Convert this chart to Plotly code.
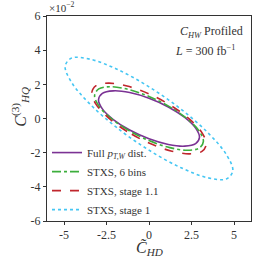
import plotly.graph_objects as go

# Contour points (x: C~_HD, y: C_HQ^(3) in units of 1e-2)
full_x = [2.97, 2.744, 2.100, 1.137, 0.0, -1.137, -2.100, -2.744, -2.97, -2.744, -2.100, -1.137, 0.0, 1.137, 2.100, 2.744]
full_y = [-1.10, -1.471, -1.619, -1.520, -1.187, -0.677, -0.062, 0.562, 1.10, 1.471, 1.619, 1.520, 1.187, 0.677, 0.062, -0.562]

bins6_x = [3.2, 2.956, 2.263, 1.225, 0.0, -1.225, -2.263, -2.956, -3.2, -2.956, -2.263, -1.225, 0.0, 1.225, 2.263, 2.956]
bins6_y = [-1.339, -1.732, -1.860, -1.706, -1.291, -0.681, 0.033, 0.744, 1.339, 1.732, 1.860, 1.706, 1.291, 0.681, -0.033, -0.744]

s11_x = [3.37, 3.113, 2.383, 1.290, 0.0, -1.290, -2.383, -3.113, -3.37, -3.113, -2.383, -1.290, 0.0, 1.290, 2.383, 3.113]
s11_y = [-1.490, -1.927, -2.070, -1.898, -1.437, -0.758, 0.037, 0.828, 1.490, 1.927, 2.070, 1.898, 1.437, 0.758, -0.037, -0.828]

s1_x = [4.93, 4.555, 3.486, 1.887, 0.0, -1.887, -3.486, -4.555, -4.93, -4.555, -3.486, -1.887, 0.0, 1.887, 3.486, 4.555]
s1_y = [-3.061, -3.537, -3.476, -2.885, -1.854, -0.541, 0.856, 2.119, 3.061, 3.537, 3.476, 2.885, 1.854, 0.541, -0.856, -2.119]

x_tickvals = [-5, -2.5, 0, 2.5, 5]
x_ticktext = ["-5", "-2.5", "0", "2.5", "5"]
y_tickvals = [-6, -4, -2, 0, 2, 4, 6]
y_ticktext = ["-6", "-4", "-2", "0", "2", "4", "6"]

series = [
    ("Full <i>p</i><sub><i>T,W</i></sub> dist.", full_x, full_y, "#7b3294", "solid"),
    ("STXS, 6 bins", bins6_x, bins6_y, "#3cae3c", "dashdot"),
    ("STXS, stage 1.1", s11_x, s11_y, "#c0262d", "dash"),
    ("STXS, stage 1", s1_x, s1_y, "#45c6f3", "dot"),
]

FONT = "Liberation Serif"
fig = go.Figure()
for name, xs, ys, col, dash in series:
    # start the closed path at the flat side so the closure is smooth
    xs2 = xs[4:] + xs[:5]
    ys2 = ys[4:] + ys[:5]
    fig.add_trace(go.Scatter(x=xs2, y=ys2, mode="lines", name=name,
                             line=dict(color=col, dash=dash, width=1.6, shape="spline", smoothing=1.0)))

axis_common = dict(showline=True, linecolor="#333", linewidth=1, mirror=True,
                   ticks="outside", ticklen=3, tickcolor="#333", showgrid=False,
                   zeroline=False, automargin=False,
                   tickfont=dict(family=FONT, size=12, color="#333"))
fig.update_xaxes(range=[-6, 6], tickvals=x_tickvals, ticktext=x_ticktext, **axis_common)
fig.update_yaxes(range=[-6, 6], tickvals=y_tickvals, ticktext=y_ticktext, **axis_common)

fig.update_layout(
    width=262, height=262,
    margin=dict(l=47, r=11, t=16, b=41, autoexpand=False),
    paper_bgcolor="white", plot_bgcolor="white",
    font=dict(family=FONT, color="#333"),
    legend=dict(x=0.0, y=-0.015, xanchor="left", yanchor="bottom",
                bgcolor="rgba(0,0,0,0)", font=dict(family=FONT, size=11, color="#333"),
                tracegroupgap=0, itemwidth=30),
    annotations=[
        dict(text="<i>C̃</i><sub><i>HD</i></sub>", xref="paper", yref="paper", x=0.5, y=-0.135,
             xanchor="center", yanchor="middle", showarrow=False, font=dict(family=FONT, size=16, color="#333")),
        dict(text="<i>C</i><sup>(3)</sup><sub><i>HQ</i></sub>", xref="paper", yref="paper", x=-0.13, y=0.56,
             xanchor="center", yanchor="middle", textangle=-90, showarrow=False,
             font=dict(family=FONT, size=16, color="#333")),
        dict(text="×10<sup>−2</sup>", xref="paper", yref="paper", x=0, y=1, xanchor="left", yanchor="bottom",
             showarrow=False, font=dict(family=FONT, size=11, color="#333")),
        dict(text="<i>C</i><sub><i>HW</i></sub> Profiled", xref="paper", yref="paper", x=0.97, y=0.97,
             xanchor="right", yanchor="top", showarrow=False, font=dict(family=FONT, size=12, color="#333")),
        dict(text="<i>L</i> = 300 fb<sup>−1</sup>", xref="paper", yref="paper", x=0.93, y=0.88,
             xanchor="right", yanchor="top", showarrow=False, font=dict(family=FONT, size=12, color="#333")),
    ],
)

fig.write_html("out.html", config={"displayModeBar": False},
               post_script="document.body.style.margin='0';")
